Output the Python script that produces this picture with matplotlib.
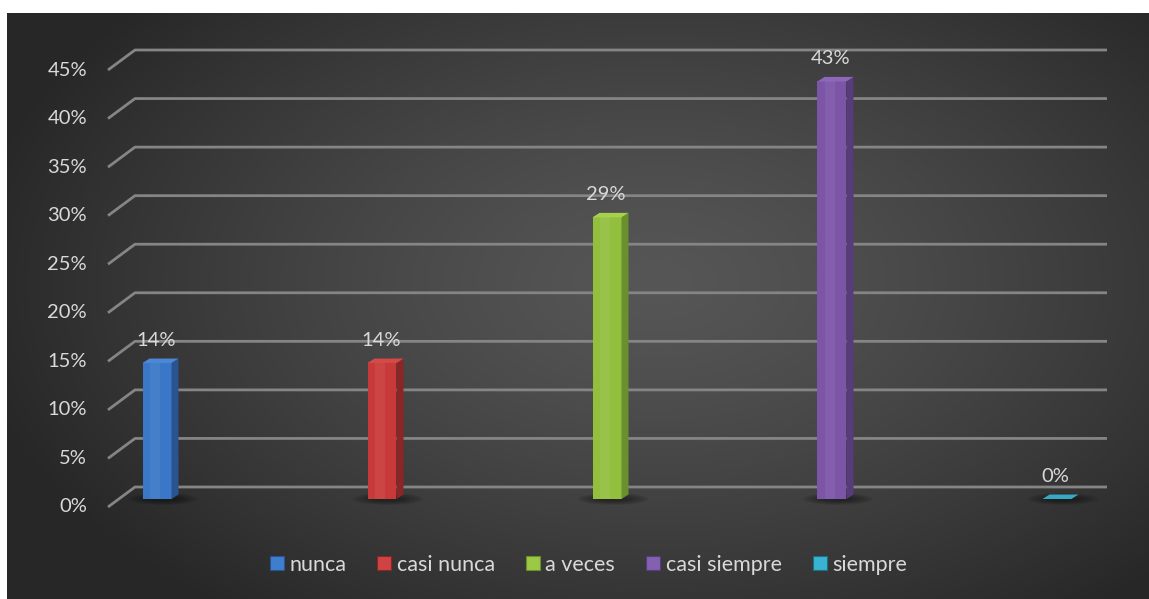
import numpy as np
import matplotlib
matplotlib.use('Agg')
import matplotlib.pyplot as plt
from matplotlib.patches import Polygon, Ellipse, Rectangle
from matplotlib.lines import Line2D

categorias = ['nunca', 'casi nunca', 'a veces', 'casi siempre', 'siempre']
valores = [14, 14, 29, 43, 0]
ticks = [0, 5, 10, 15, 20, 25, 30, 35, 40, 45]

frente = ['#3a77c6', '#c83a3a', '#92bf3e', '#7c55a7', '#2a93ad']
lado = ['#29548f', '#8c2626', '#6b8f2c', '#573b7b', '#1f6f83']
tapa = ['#4d88d6', '#d44a48', '#a6d04e', '#8e67bb', '#37a9c4']
leyenda = ['#3f7ecf', '#d04343', '#9cc944', '#8460b0', '#38b4d2']

plt.rcParams['font.family'] = ['Lato', 'DejaVu Sans']
txt = '#d9d9d9'

fig = plt.figure(figsize=(11.49, 5.99), dpi=100)
fig.patch.set_facecolor('white')

# fondo con degradado radial
bg = fig.add_axes([7 / 1149, 0, 1 - 7 / 1149, 1 - 13 / 599])
bg.set_axis_off()
gx, gy = np.meshgrid(np.linspace(0, 1142, 400), np.linspace(0, 586, 200))
r = np.sqrt(((gx - 650) / 700) ** 2 + ((gy - 270) / 420) ** 2)
r = np.clip(r, 0, 1)
c = 0x56 - (0x56 - 0x27) * r ** 1.3
bg.imshow(np.dstack([c, c, c]) / 255, extent=[0, 1, 0, 1], aspect='auto', origin='upper')
bg.set_xlim(0, 1)
bg.set_ylim(0, 1)

ax = fig.add_axes([108 / 1149, 100 / 599, 999 / 1149, 437 / 599])
ax.set_facecolor('none')
ax.set_xlim((108 - 157) / 225, (1107 - 157) / 225)
ax.set_ylim(0, 45)
for s in ax.spines.values():
    s.set_visible(False)
ax.set_xticks([])
ax.set_yticks([])

k = 45 / 437          # datos por pixel en y
kx = 1 / 225          # datos por pixel en x
tr = ax.get_yaxis_transform()
for t in ticks:
    ax.plot([0, 27 / 999, 1], [t - 8 * k, t + 12 * k, t + 12 * k], transform=tr,
            color='#858585', lw=2, clip_on=False, zorder=1, solid_capstyle='butt')
    ax.text(-21 / 999, t - 8 * k, f'{t}%', transform=tr, ha='right', va='center',
            color=txt, fontsize=14.5)

w = 29 * kx
dx = 7 * kx
dy = 4.5 * k
x = np.arange(len(valores))
for i, v in enumerate(valores):
    x0 = x[i] - w / 2
    x1 = x[i] + w / 2
    # sombra
    for j in range(6):
        ax.add_patch(Ellipse((x[i] + 6 * kx, 0), (70 - 8 * j) * kx, (12 - 1.5 * j) * k,
                             color='black', alpha=0.08, lw=0, zorder=2, clip_on=False))
    if v > 0:
        ax.bar(x[i], v, width=w, color=frente[i], zorder=3)
        ax.add_patch(Rectangle((x0 + w * 0.25, 0), w * 0.35, v, color='white',
                               alpha=0.06, lw=0, zorder=3.1))
        ax.add_patch(Polygon([(x1, 0), (x1 + dx, dy), (x1 + dx, v + dy), (x1, v)],
                             closed=True, color=lado[i], lw=0, zorder=3))
    ax.add_patch(Polygon([(x0, v), (x1, v), (x1 + dx, v + dy), (x0 + dx, v + dy)],
                         closed=True, color=tapa[i], lw=0, zorder=3, clip_on=False))
    ax.annotate(f'{v}%', (x[i], v), xytext=(-1, 16.5), textcoords='offset points',
                ha='center', va='center', color=txt, fontsize=14.5, zorder=5)

handles = [Line2D([], [], marker='s', ls='', markersize=10.5, markerfacecolor=leyenda[i],
                  markeredgecolor=lado[i], markeredgewidth=0.8) for i in range(5)]
leg = fig.legend(handles, categorias, loc='center', bbox_to_anchor=(588 / 1149, 1 - 565 / 599),
                 ncol=5, frameon=False, fontsize=15.5, handletextpad=0.2,
                 columnspacing=1.4, handlelength=0.75)
for t in leg.get_texts():
    t.set_color(txt)

fig.savefig('out.png', dpi=100)
